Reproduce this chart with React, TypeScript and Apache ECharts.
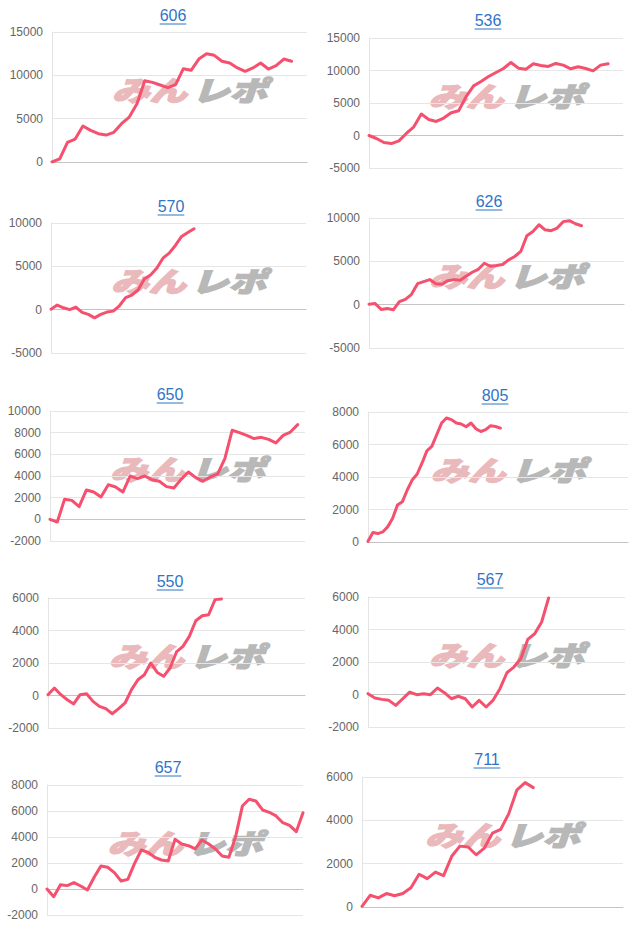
import React, { useEffect, useRef } from "react";
import * as echarts from "echarts";

// ---- data ----
const titles = ["606", "536", "570", "626", "650", "805", "550", "567", "657", "711"];
const slotCounts = [34, 35, 42, 43, 36, 54, 41, 38, 39, 33];
const yMins = [0, -5000, -5000, -5000, -2000, 0, -2000, -2000, -2000, 0];
const yMaxs = [15000, 15000, 10000, 10000, 10000, 8000, 6000, 6000, 8000, 6000];
const yIntervals = [5000, 5000, 5000, 5000, 2000, 2000, 2000, 2000, 2000, 2000];

const s606 = [0, 350, 2270, 2650, 4150, 3650, 3270, 3110, 3420, 4420, 5190, 6730, 9380, 9190, 8880, 8580, 8920, 10770, 10580, 11880, 12500, 12310, 11620, 11420, 10850, 10460, 10850, 11420, 10730, 11110, 11880, 11620];
const s536 = [0, -460, -1080, -1240, -820, 310, 1340, 3300, 2470, 2160, 2680, 3500, 3810, 5980, 7630, 8300, 9070, 9690, 10310, 11240, 10360, 10200, 11030, 10770, 10620, 11080, 10830, 10260, 10570, 10310, 9950, 10830, 11030];
const s570 = [60, 530, 220, 0, 300, -320, -550, -940, -550, -280, -170, 450, 1380, 1690, 2270, 3540, 4000, 4780, 5940, 6520, 7410, 8450, 8910, 9340];
const s626 = [60, 140, -550, -440, -590, 340, 610, 1190, 2420, 2660, 2890, 2420, 2350, 2770, 2890, 2810, 3270, 3740, 4080, 4780, 4430, 4510, 4630, 5170, 5560, 6140, 7950, 8450, 9220, 8640, 8530, 8840, 9580, 9690, 9340, 9110];
const s650 = [0, -250, 1850, 1750, 1170, 2710, 2520, 2060, 3200, 2980, 2520, 4000, 3750, 4000, 3660, 3510, 3020, 2890, 3690, 4370, 3850, 3510, 3910, 4180, 5600, 8220, 8000, 7750, 7450, 7570, 7380, 7050, 7750, 8060, 8740];
const s805 = [40, 580, 520, 620, 930, 1440, 2270, 2470, 3200, 3810, 4170, 4850, 5610, 5880, 6600, 7320, 7630, 7530, 7320, 7260, 7090, 7320, 6970, 6800, 6910, 7160, 7110, 7010];
const s550 = [50, 460, 50, -260, -520, 50, 110, -360, -670, -810, -1120, -810, -460, 360, 970, 1280, 2000, 1420, 1180, 1690, 2680, 3020, 3640, 4600, 4910, 4970, 5900, 5940];
const s567 = [50, -220, -300, -360, -670, -260, 150, -10, 50, -10, 400, 110, -260, -110, -260, -770, -360, -770, -360, 360, 1340, 1690, 2200, 3390, 3740, 4460, 5940];
const s657 = [0, -590, 330, 260, 490, 230, -80, 900, 1770, 1670, 1260, 620, 740, 1970, 3000, 2820, 2440, 2230, 2150, 3820, 3460, 3330, 3080, 3770, 3460, 3080, 2540, 2440, 4030, 6380, 6900, 6770, 6080, 5900, 5620, 5100, 4900, 4410, 5870];
const s711 = [30, 540, 420, 620, 520, 620, 890, 1510, 1310, 1610, 1450, 2340, 2810, 2770, 2410, 2720, 3410, 3580, 4310, 5410, 5740, 5510];
const seriesValues = [s606, s536, s570, s626, s650, s805, s550, s567, s657, s711];

// ---- layout (pixels) ----
const plotBoxes = [
  { l: 52, r: 307, t: 32, b: 162, tx: 173, ty: 15 },
  { l: 369, r: 623, t: 38, b: 168, tx: 488, ty: 20 },
  { l: 51, r: 306, t: 223, b: 353, tx: 171, ty: 206 },
  { l: 369, r: 624, t: 218, b: 348, tx: 489, ty: 201 },
  { l: 50, r: 305, t: 411, b: 541, tx: 170, ty: 394 },
  { l: 368, r: 628, t: 412, b: 542, tx: 495, ty: 395 },
  { l: 48, r: 305, t: 598, b: 728, tx: 170, ty: 581 },
  { l: 368, r: 625, t: 597, b: 727, tx: 490, ty: 579 },
  { l: 47, r: 303, t: 785, b: 915, tx: 168, ty: 767 },
  { l: 362, r: 623, t: 777, b: 907, tx: 487, ty: 759 },
];

const LINE = "#f5506e";
const TITLE = "#2f74c6";

export default function App() {
  const ref = useRef<HTMLDivElement>(null);
  useEffect(() => {
    if (!ref.current) return;
    const chart = echarts.init(ref.current, null, { renderer: "svg" });
    const grids: any[] = [];
    const xAxes: any[] = [];
    const yAxes: any[] = [];
    const series: any[] = [];
    const graphics: any[] = [];
    plotBoxes.forEach((p, i) => {
      grids.push({ left: p.l, top: p.t, width: p.r - p.l, height: p.b - p.t, containLabel: false });
      const labels = Array.from({ length: slotCounts[i] }, (_, k) => String(k + 1));
      xAxes.push({
        type: "category",
        gridIndex: i,
        data: labels,
        boundaryGap: false,
        axisLabel: { show: false },
        axisTick: { show: false },
        splitLine: { show: false },
        axisLine: { show: true, onZero: true, lineStyle: { color: "#c4c4c4", width: 1 } },
      });
      yAxes.push({
        type: "value",
        gridIndex: i,
        min: yMins[i],
        max: yMaxs[i],
        interval: yIntervals[i],
        axisLabel: {
          color: "#666",
          fontSize: 12,
          margin: 9,
          fontFamily: "Arial, 'Liberation Sans', sans-serif",
          formatter: (v: number) => String(v),
        },
        axisTick: { show: false },
        axisLine: { show: true, lineStyle: { color: "#e4e4e4" } },
        splitLine: { show: true, lineStyle: { color: "#e6e6e6" } },
      });
      series.push({
        type: "line",
        xAxisIndex: i,
        yAxisIndex: i,
        data: seriesValues[i],
        symbol: "none",
        showSymbol: false,
        smooth: false,
        lineStyle: { color: LINE, width: 3, join: "round", cap: "round" },
        z: 3,
      });
      const cx = (p.l + p.r) / 2 + 10;
      const cy = (p.t + p.b) / 2 - 8;
      const wmFont = "italic 900 30px 'Noto Sans CJK JP', sans-serif";
      graphics.push({
        type: "text",
        x: cx - 40,
        y: cy,
        scaleX: 1.25,
        scaleY: 0.92,
        z: 0,
        silent: true,
        style: {
          text: "みん", fill: "#eab9bb", stroke: "#eab9bb", lineWidth: 1.5, font: wmFont,
          textAlign: "center", textVerticalAlign: "middle", align: "center", verticalAlign: "middle",
        },
      });
      graphics.push({
        type: "text",
        x: cx + 40,
        y: cy,
        scaleX: 1.25,
        scaleY: 0.92,
        z: 0,
        silent: true,
        style: {
          text: "レポ", fill: "#b8b8b8", stroke: "#b8b8b8", lineWidth: 1.5, font: wmFont,
          textAlign: "center", textVerticalAlign: "middle", align: "center", verticalAlign: "middle",
        },
      });
      const tw = titles[i].length * 8.9;
      graphics.push({
        type: "text",
        x: p.tx,
        y: p.ty,
        z: 5,
        style: {
          text: titles[i], fill: TITLE, font: "16px Arial, 'Liberation Sans', sans-serif",
          textAlign: "center", textVerticalAlign: "middle", align: "center", verticalAlign: "middle",
        },
      });
      graphics.push({
        type: "line",
        z: 5,
        shape: { x1: p.tx - tw / 2, y1: p.ty + 9, x2: p.tx + tw / 2, y2: p.ty + 9 },
        style: { stroke: TITLE, lineWidth: 1 },
      });
    });
    chart.setOption({
      animation: false,
      backgroundColor: "#fff",
      grid: grids,
      xAxis: xAxes,
      yAxis: yAxes,
      series,
      graphic: { elements: graphics },
    });
    return () => chart.dispose();
  }, []);
  return <div ref={ref} style={{ position: "absolute", left: 0, top: 0, width: 640, height: 931 }} />;
}
